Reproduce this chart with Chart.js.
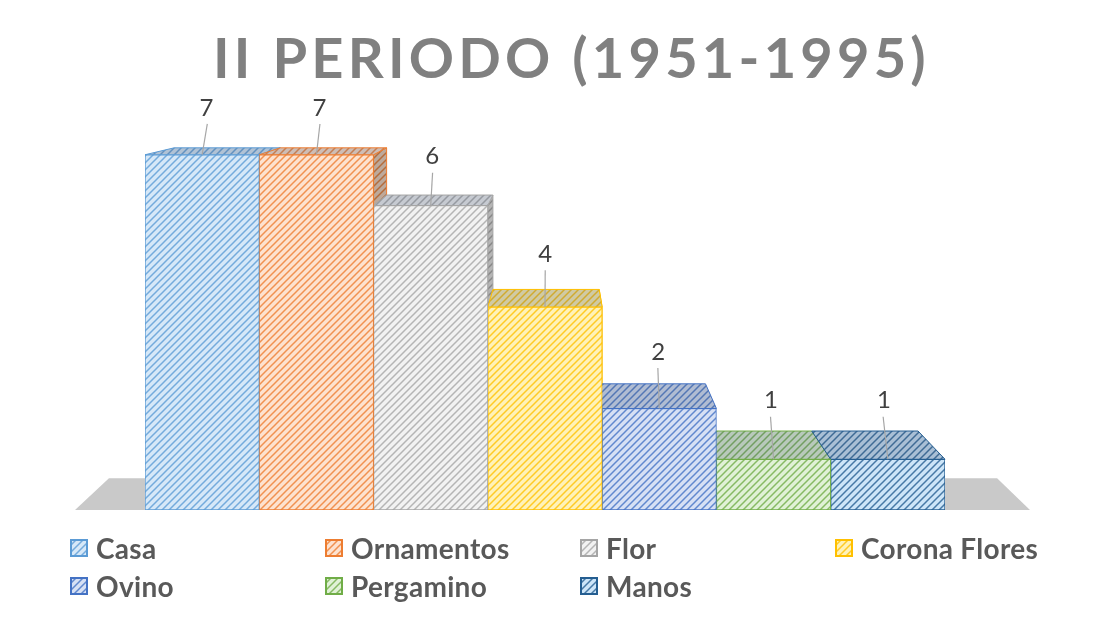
<!DOCTYPE html>
<html>
  <head>
    <meta charset="utf-8" />
    <title>II Periodo (1951-1995)</title>
    <style>
      body {
        margin: 0;
        padding: 0;
        background-color: #ffffff;
        font-family: Lato, "Open Sans", sans-serif;
      }

      #wrap {
        position: relative;
        width: 1093px;
        height: 628px;
        overflow: hidden;
      }

      #title {
        position: absolute;
        left: 50px;
        right: 0;
        top: 22px;
        text-align: center;
        font-size: 56px;
        font-weight: bold;
        color: #808080;
        letter-spacing: 4.2px;
        line-height: 70px;
      }

      canvas {
        position: absolute;
        left: 0;
        top: 0;
      }

      #legend {
        position: absolute;
        left: 70px;
        top: 532px;
        display: grid;
        grid-template-columns: 255px 255px 255px 255px;
        row-gap: 6px;
      }

      .item {
        display: flex;
        align-items: center;
        height: 32px;
        font-size: 28px;
        font-weight: bold;
        color: #595959;
        letter-spacing: 0.3px;
      }

      .item canvas {
        position: static;
        margin-right: 8px;
      }
    </style>
    <script src="https://cdn.jsdelivr.net/npm/chart.js"></script>
  </head>
  <body>
    <div id="wrap">
      <canvas id="myChart" width="1093" height="628"></canvas>
      <div id="title">II PERIODO (1951-1995)</div>
      <div id="legend"></div>
    </div>
    <script>
      const categories = ["II Periodo"];
      const seriesNames = ["Casa", "Ornamentos", "Flor", "Corona Flores", "Ovino", "Pergamino", "Manos"];
      const seriesValues = [7, 7, 6, 4, 2, 1, 1];
      const lineColors = ["#5b9bd5", "#ed7d31", "#a5a5a5", "#ffc000", "#4472c4", "#70ad47", "#255e91"];
      const fillColors = ["#d6e8f8", "#fde2cf", "#f2f2f2", "#fff2b8", "#d6e0f4", "#e0f1d6", "#cde5f8"];

      // perspective of the Excel 3D look
      const vanish = { x: 560, y: 56 };
      const shrink = 0.07;

      function makePattern(bg, fg) {
        const c = document.createElement("canvas");
        c.width = 7;
        c.height = 7;
        const g = c.getContext("2d");
        g.fillStyle = bg;
        g.fillRect(0, 0, 7, 7);
        g.strokeStyle = fg;
        g.globalAlpha = 0.8;
        g.lineWidth = 1.5;
        g.beginPath();
        g.moveTo(-2, 9); g.lineTo(9, -2);
        g.moveTo(-5, 5); g.lineTo(5, -5);
        g.moveTo(2, 12); g.lineTo(12, 2);
        g.stroke();
        return c;
      }

      const patterns = seriesNames.map((n, i) => {
        const tile = makePattern(fillColors[i], lineColors[i]);
        return document.createElement("canvas").getContext("2d").createPattern(tile, "repeat");
      });

      function back(x, y) {
        return [x + (vanish.x - x) * shrink, y + (vanish.y - y) * shrink];
      }

      function poly(ctx, pts, fill, shade, stroke) {
        ctx.beginPath();
        ctx.moveTo(pts[0][0], pts[0][1]);
        for (let i = 1; i < pts.length; i++) ctx.lineTo(pts[i][0], pts[i][1]);
        ctx.closePath();
        ctx.fillStyle = fill;
        ctx.fill();
        if (shade) {
          ctx.fillStyle = shade;
          ctx.fill();
        }
        if (stroke) {
          ctx.strokeStyle = stroke;
          ctx.lineWidth = 1;
          ctx.stroke();
        }
      }

      const depthPlugin = {
        id: "depth",
        beforeDatasetsDraw(chart) {
          const ctx = chart.ctx;
          const area = chart.chartArea;
          const base = area.bottom;
          ctx.save();
          // floor
          const fl = [area.left - 70, base];
          const fr = [area.right + 85, base];
          poly(ctx, [fl, fr, back(fr[0], fr[1]), back(fl[0], fl[1])], "#c9c9c9", null, null);

          const bars = chart.data.datasets.map((d, i) => chart.getDatasetMeta(i).data[0]);
          // side faces
          bars.forEach((bar, i) => {
            const l = bar.x - bar.width / 2;
            const r = bar.x + bar.width / 2;
            const ex = bar.x < vanish.x ? r : l;
            const pts = [[ex, bar.y], back(ex, bar.y), back(ex, base), [ex, base]];
            poly(ctx, pts, patterns[i], "rgba(0,0,0,0.25)", lineColors[i]);
          });
          // top faces
          bars.forEach((bar, i) => {
            const l = bar.x - bar.width / 2;
            const r = bar.x + bar.width / 2;
            const pts = [[l, bar.y], [r, bar.y], back(r, bar.y), back(l, bar.y)];
            poly(ctx, pts, patterns[i], "rgba(40,60,90,0.22)", lineColors[i]);
          });
          ctx.restore();
        },
        afterDatasetsDraw(chart) {
          const ctx = chart.ctx;
          ctx.save();
          ctx.font = "24px Lato";
          ctx.fillStyle = "#404040";
          ctx.textAlign = "center";
          ctx.textBaseline = "middle";
          chart.data.datasets.forEach((d, i) => {
            const bar = chart.getDatasetMeta(i).data[0];
            const depth = (bar.y - vanish.y) * shrink;
            const lx = bar.x + (vanish.x - bar.x) * 0.012;
            const ly = bar.y - 43 - depth * 0.55;
            ctx.strokeStyle = "#a6a6a6";
            ctx.lineWidth = 1.2;
            ctx.beginPath();
            ctx.moveTo(lx + (lx - bar.x) * 0.2, ly + 16);
            ctx.lineTo(bar.x, bar.y);
            ctx.stroke();
            ctx.fillText(String(d.data[0]), lx, ly);
          });
          ctx.restore();
        },
      };

      const ctx = document.getElementById("myChart").getContext("2d");
      const myChart = new Chart(ctx, {
        type: "bar",
        data: {
          labels: categories,
          datasets: seriesNames.map((name, i) => ({
            label: name,
            data: [seriesValues[i]],
            backgroundColor: patterns[i],
            borderColor: lineColors[i],
            borderWidth: 1,
            borderSkipped: false,
            barPercentage: 1,
            categoryPercentage: 1,
          })),
        },
        options: {
          responsive: false,
          animation: false,
          layout: {
            padding: { top: 104, left: 145, right: 148, bottom: 118 },
          },
          plugins: {
            legend: { display: false },
            tooltip: { enabled: false },
          },
          scales: {
            x: { display: false },
            y: { display: false, min: 0, max: 8 },
          },
        },
        plugins: [depthPlugin],
      });

      // legend in four columns like the original
      const legend = document.getElementById("legend");
      seriesNames.forEach((name, i) => {
        const item = document.createElement("div");
        item.className = "item";
        const sw = document.createElement("canvas");
        sw.width = 18;
        sw.height = 18;
        const g = sw.getContext("2d");
        g.fillStyle = g.createPattern(makePattern(fillColors[i], lineColors[i]), "repeat");
        g.fillRect(0, 0, 18, 18);
        g.strokeStyle = lineColors[i];
        g.lineWidth = 2;
        g.strokeRect(1, 1, 16, 16);
        item.appendChild(sw);
        const span = document.createElement("span");
        span.textContent = name;
        item.appendChild(span);
        legend.appendChild(item);
      });
    </script>
  </body>
</html>
